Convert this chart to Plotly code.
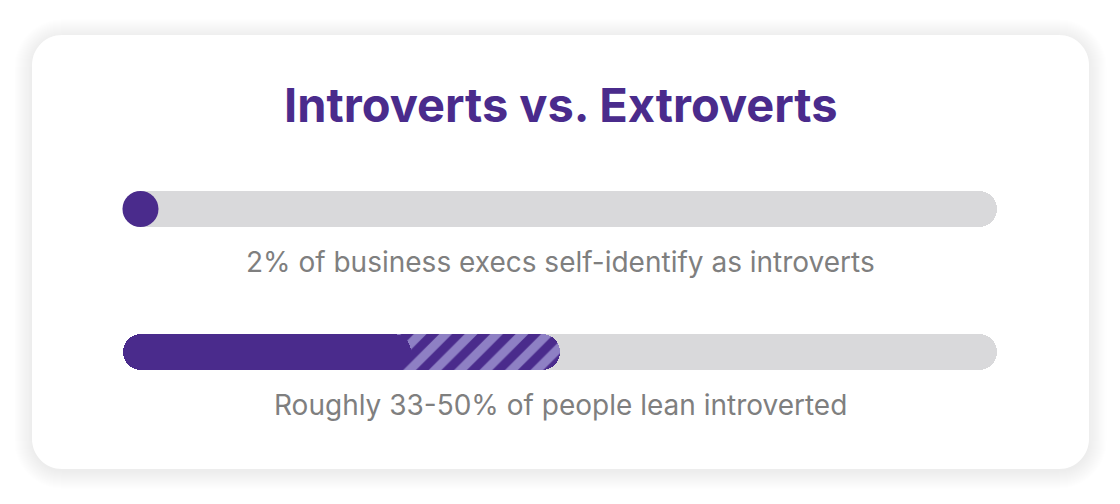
import plotly.graph_objects as go

# ---- data ----
title_text = "Introverts vs. Extroverts"
row_labels = ["2% of business execs self-identify as introverts",
              "Roughly 33-50% of people lean introverted"]
rows = [0, 1]
exec_pct = 2          # % of business execs identifying as introverts
people_low = 33       # lower bound, % of people leaning introverted
people_high = 50      # upper bound
track_max = 100

# ---- style ----
OFF = 8                     # page body margin
W, H = 1120 - OFF, 504 - OFF
PURPLE = "#4a2b8c"
LIGHT_PURPLE = "#8e80c4"
TRACK = "#d9d9db"
GRAY_TEXT = "#7f7f7f"
FONT = "Inter"
BAR_PX = 36
RADIUS = 18

# axis geometry (screen px): 0% at 123, 100% at 997 ; row 0 at 209, row 1 at 352
px_per_pct = (997 - 123) / 100.0
x_r0 = -(123 - OFF) / px_per_pct
x_r1 = x_r0 + W / px_per_pct
px_per_row = 352 - 209
y_top = -(209 - OFF) / px_per_row
y_bot = y_top + H / px_per_row
bar_w = BAR_PX / px_per_row


def rounded_halves(value, row, **kw):
    """Two overlapping bars so that both ends get rounded corners."""
    a = value * 0.6
    b = value * 0.4
    return [
        go.Bar(x=[-a], base=[a], y=[row], orientation="h", width=bar_w,
               hoverinfo="skip", showlegend=False, **kw),
        go.Bar(x=[a], base=[b], y=[row], orientation="h", width=bar_w,
               hoverinfo="skip", showlegend=False, **kw),
    ]


traces = []
for r in rows:
    traces += rounded_halves(track_max, r, marker=dict(color=TRACK, line=dict(width=0),
                                                       cornerradius=RADIUS))
traces += rounded_halves(people_high, rows[1], marker=dict(
    color=PURPLE, line=dict(width=0), cornerradius=RADIUS,
    pattern=dict(shape="/", fgcolor=LIGHT_PURPLE, bgcolor=PURPLE, fgopacity=1,
                 size=18, solidity=0.5)))
traces += rounded_halves(people_low, rows[1], marker=dict(color=PURPLE, line=dict(width=0),
                                                          cornerradius=RADIUS))
traces.append(go.Scatter(x=[exec_pct], y=[rows[0]], mode="markers",
                         marker=dict(size=BAR_PX, color=PURPLE, line=dict(width=0)),
                         hoverinfo="skip", showlegend=False))

fig = go.Figure(traces)


# ---- card with soft shadow ----
def rr_path(x0, y0, x1, y1, r):
    x0, y0, x1, y1 = x0 - OFF, y0 - OFF, x1 - OFF, y1 - OFF
    k = 0.5523 * r
    def P(x, y):
        return f"{x / W:.5f},{1 - y / H:.5f}"
    return (f"M {P(x0 + r, y0)} L {P(x1 - r, y0)} "
            f"C {P(x1 - r + k, y0)} {P(x1, y0 + r - k)} {P(x1, y0 + r)} "
            f"L {P(x1, y1 - r)} "
            f"C {P(x1, y1 - r + k)} {P(x1 - r + k, y1)} {P(x1 - r, y1)} "
            f"L {P(x0 + r, y1)} "
            f"C {P(x0 + r - k, y1)} {P(x0, y1 - r + k)} {P(x0, y1 - r)} "
            f"L {P(x0, y0 + r)} "
            f"C {P(x0, y0 + r - k)} {P(x0 + r - k, y0)} {P(x0 + r, y0)} Z")


cx0, cy0, cx1, cy1, cr = 32, 35, 1089, 469, 30
shapes = []
for i in range(18, 0, -1):
    shapes.append(dict(type="path", xref="paper", yref="paper", layer="below",
                       path=rr_path(cx0 - i, cy0 - i + 2, cx1 + i, cy1 + i + 2, cr + i),
                       fillcolor="rgba(0,0,0,0.0055)", line=dict(width=0)))
shapes.append(dict(type="path", xref="paper", yref="paper", layer="below",
                   path=rr_path(cx0, cy0, cx1, cy1, cr),
                   fillcolor="#ffffff", line=dict(width=0)))

annotations = [
    dict(text=f"<b>{title_text}</b>", xref="paper", yref="paper",
         x=(560 - OFF) / W, y=1 - (104 - OFF) / H,
         showarrow=False, xanchor="center", yanchor="middle",
         font=dict(family=FONT, size=47, color=PURPLE)),
]
for r, lab in zip(rows, row_labels):
    annotations.append(dict(text=lab, x=track_max / 2, y=r + 53 / px_per_row,
                            xref="x", yref="y", showarrow=False,
                            xanchor="center", yanchor="middle",
                            font=dict(family=FONT, size=28, color=GRAY_TEXT)))

fig.update_layout(
    width=W, height=H, margin=dict(l=0, r=0, t=0, b=0),
    paper_bgcolor="#ffffff", plot_bgcolor="rgba(0,0,0,0)",
    barmode="overlay", bargap=0,
    xaxis=dict(range=[x_r0, x_r1], visible=False, fixedrange=True),
    yaxis=dict(range=[y_bot, y_top], visible=False, fixedrange=True),
    shapes=shapes, annotations=annotations, showlegend=False,
)

fig.write_html("out.html")
